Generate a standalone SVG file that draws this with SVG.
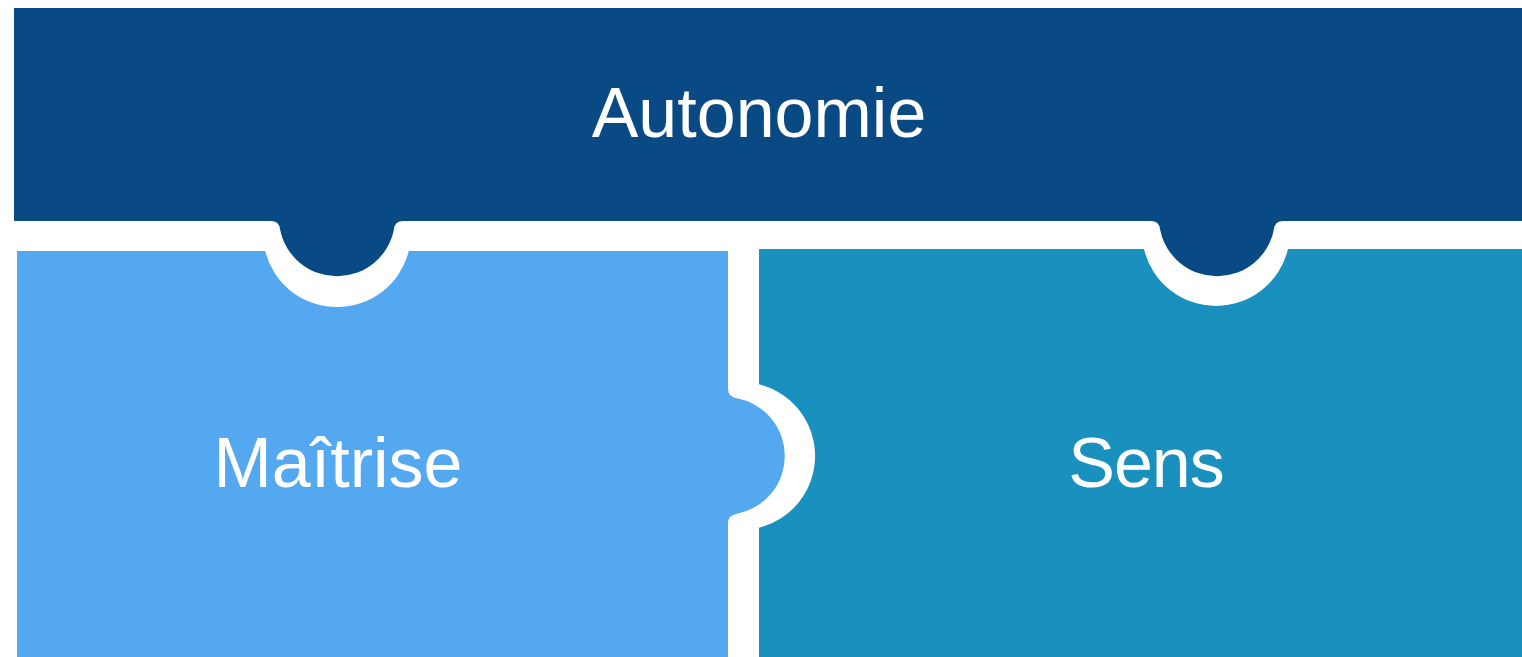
<svg xmlns="http://www.w3.org/2000/svg" width="1522" height="657" viewBox="0 0 1522 657">
<style>
.lbl{font-family:"Liberation Sans",Arial,sans-serif;font-size:70px;fill:#ffffff;text-anchor:middle}
</style>
<rect width="1522" height="657" fill="#ffffff"/>
<g id="autonomie">
<path fill="#094a85" d="M14,8 L1522,8 L1522,221 L1283,221 Q1275,221 1274,229 A58 58 0 0 1 1160,229 Q1159,221 1151,221 L403,221 Q395,221 394,229 A58 58 0 0 1 280,229 Q279,221 271,221 L14,221 Z"/>
<text class="lbl" x="759" y="137">Autonomie</text>
</g>
<g id="maitrise">
<path fill="#53a8f0" d="M17,251 L265.2,251 A74 74 0 0 0 408.8,251 L728,251 L728,389 Q728,397 738,398.6 A58.6 58.6 0 0 1 738,513.4 Q728,515 728,523 L728,657 L17,657 Z"/>
<text class="lbl" x="338" y="487">Maîtrise</text>
</g>
<g id="sens">
<path fill="#1a90bf" d="M759,249 L1144,249 A74 74 0 0 0 1288,249 L1522,249 L1522,657 L759,657 L759,527.8 A74 74 0 0 0 759,384.2 Z"/>
<text class="lbl" x="1146" y="487" letter-spacing="-1">Sens</text>
</g>
<g id="connectors"></g>
</svg>
